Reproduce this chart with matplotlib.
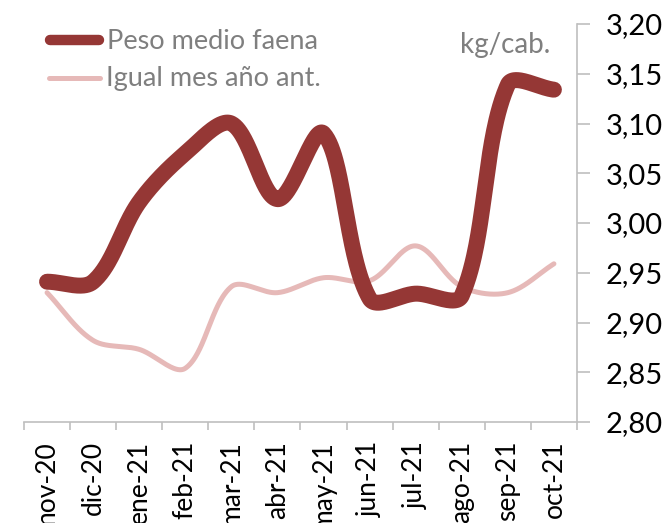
import numpy as np
import matplotlib
matplotlib.use("Agg")
import matplotlib.pyplot as plt
from matplotlib.lines import Line2D
from matplotlib.ticker import FixedLocator, FuncFormatter, NullFormatter

plt.rcParams['font.family'] = ['Lato', 'DejaVu Sans']

months = ["nov-20", "dic-20", "ene-21", "feb-21", "mar-21", "abr-21",
          "may-21", "jun-21", "jul-21", "ago-21", "sep-21", "oct-21"]
peso_medio = [2.941, 2.941, 3.021, 3.070, 3.100, 3.024,
              3.090, 2.924, 2.929, 2.927, 3.139, 3.134]
igual_mes_ant = [2.930, 2.882, 2.873, 2.854, 2.936, 2.930,
                 2.945, 2.942, 2.977, 2.936, 2.930, 2.959]
series_names = ["Peso medio faena", "Igual mes año ant."]
unit_label = "kg/cab."

DARK = "#953735"
LIGHT = "#E6B9B8"
AXIS_GRAY = "#BFBFBF"
TEXT_GRAY = "#7F7F7F"


def smooth_path(ax, x, y, n=60):
    """Smoothed line through every point: cubic Bezier segments whose control
    points follow the neighbouring chord, weighted by on-screen segment length."""
    pts = ax.transData.transform(np.column_stack([x, y]).astype(float))
    p = np.vstack([pts[:1], pts, pts[-1:]])
    t = np.linspace(0, 1, n)[:, None]
    out = []
    for i in range(1, len(p) - 2):
        p0, p1, p2, p3 = p[i - 1], p[i], p[i + 1], p[i + 2]
        d01 = np.linalg.norm(p1 - p0)
        d12 = np.linalg.norm(p2 - p1)
        d23 = np.linalg.norm(p3 - p2)
        w1 = d12 / (d01 + d12) if d01 + d12 > 0 else 0.0
        w2 = d12 / (d12 + d23) if d12 + d23 > 0 else 0.0
        c1 = p1 + (p2 - p0) * w1 / 3.0
        c2 = p2 - (p3 - p1) * w2 / 3.0
        seg = (1 - t) ** 3 * p1 + 3 * (1 - t) ** 2 * t * c1 \
            + 3 * (1 - t) * t ** 2 * c2 + t ** 3 * p2
        out.append(seg if i == 1 else seg[1:])
    data = ax.transData.inverted().transform(np.vstack(out))
    return data[:, 0], data[:, 1]


fig = plt.figure(figsize=(6.67, 5.23), dpi=100)
ax = fig.add_axes([0.036, 0.1931, 0.829, 0.761])
ax.set_xlim(-0.5, len(months) - 0.5)
ax.set_ylim(2.80, 3.20)

xi = np.arange(len(months))
sx, sy = smooth_path(ax, xi, igual_mes_ant)
ax.plot(sx, sy, color=LIGHT, lw=3.6, solid_capstyle='round',
        solid_joinstyle='round', zorder=2)
sx, sy = smooth_path(ax, xi, peso_medio)
ax.plot(sx, sy, color=DARK, lw=11.5, solid_capstyle='round',
        solid_joinstyle='round', zorder=3)

# tick marks sit on category boundaries, labels on category centres
ax.xaxis.set_major_locator(FixedLocator(np.arange(-0.5, len(months), 1.0)))
ax.xaxis.set_major_formatter(NullFormatter())
ax.xaxis.set_minor_locator(FixedLocator(xi))
ax.set_xticklabels(months, minor=True, rotation=90, fontsize=19)
ax.tick_params(axis='x', which='major', length=5.8, width=1.2, color=AXIS_GRAY,
               direction='out')
ax.tick_params(axis='x', which='minor', length=0, pad=13.5, labelcolor='black')

ax.yaxis.tick_right()
ax.set_yticks(np.arange(2.80, 3.2001, 0.05))
ax.yaxis.set_major_formatter(FuncFormatter(lambda v, p: f"{v:.2f}".replace(".", ",")))
ax.tick_params(axis='y', length=9, width=1.2, color=AXIS_GRAY, labelsize=21,
               pad=12, labelcolor='black')

for side in ("left", "top"):
    ax.spines[side].set_visible(False)
for side in ("bottom", "right"):
    ax.spines[side].set_color(AXIS_GRAY)
    ax.spines[side].set_linewidth(1.2)

# legend keys and labels
fig.add_artist(Line2D([0.075, 0.1484], [0.9235, 0.9235], transform=fig.transFigure,
                      color=DARK, lw=7.5, solid_capstyle='round'))
fig.add_artist(Line2D([0.0735, 0.150], [0.8509, 0.8509], transform=fig.transFigure,
                      color=LIGHT, lw=3.6, solid_capstyle='round'))
fig.text(0.160, 0.9063, series_names[0], color=TEXT_GRAY, fontsize=19.5,
         ha='left', va='baseline')
fig.text(0.159, 0.8356, series_names[1], color=TEXT_GRAY, fontsize=19.5,
         ha='left', va='baseline')

fig.text(0.8246, 0.8987, unit_label, color=TEXT_GRAY, fontsize=20,
         ha='right', va='baseline')

fig.savefig("out.png", dpi=100)
